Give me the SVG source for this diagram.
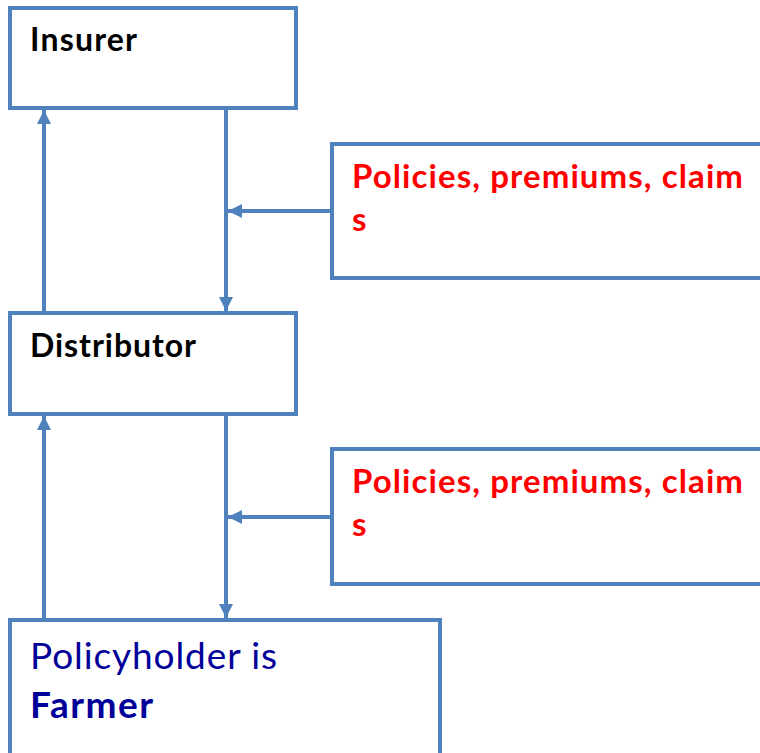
<svg xmlns="http://www.w3.org/2000/svg" width="760" height="753" viewBox="0 0 760 753">
<style>
.box{fill:#fff;stroke:#4F81BD;stroke-width:4}
.ln{stroke:#4F81BD;stroke-width:4;fill:none}
.lbl{font-family:Lato,"Liberation Sans",sans-serif;font-weight:bold;font-size:32px;fill:#000}
.red{font-family:Lato,"Liberation Sans",sans-serif;font-weight:bold;font-size:33px;fill:#FF0000}
.blue{font-family:Lato,"Liberation Sans",sans-serif;font-size:37px;fill:#000099}
</style>
<defs>
<marker id="ah" viewBox="0 0 10 10" refX="10" refY="5" markerWidth="3.5" markerHeight="3.7" orient="auto" markerUnits="strokeWidth">
<path d="M0,0 L10,5 L0,10 z" fill="#4F81BD"/>
</marker>
</defs>
<g id="connectors">
<line class="ln" x1="44" y1="311" x2="44" y2="110" marker-end="url(#ah)"/>
<line class="ln" x1="226" y1="110" x2="226" y2="311" marker-end="url(#ah)"/>
<line class="ln" x1="332" y1="211" x2="228" y2="211" marker-end="url(#ah)"/>
<line class="ln" x1="44" y1="618" x2="44" y2="416" marker-end="url(#ah)"/>
<line class="ln" x1="226" y1="416" x2="226" y2="618" marker-end="url(#ah)"/>
<line class="ln" x1="332" y1="517" x2="228" y2="517" marker-end="url(#ah)"/>
</g>
<g id="insurer">
<rect class="box" x="10" y="8" width="286" height="100"/>
<text class="lbl" x="30" y="51" textLength="107" lengthAdjust="spacing">Insurer</text>
</g>
<g id="callout1">
<rect class="box" x="332" y="144" width="440" height="134"/>
<text class="red" x="352" y="188" textLength="391" lengthAdjust="spacing">Policies, premiums, claim</text>
<text class="red" x="352" y="231">s</text>
</g>
<g id="distributor">
<rect class="box" x="10" y="313" width="286" height="101"/>
<text class="lbl" x="30" y="357" textLength="166" lengthAdjust="spacing">Distributor</text>
</g>
<g id="callout2">
<rect class="box" x="332" y="449" width="440" height="135"/>
<text class="red" x="352" y="493" textLength="391" lengthAdjust="spacing">Policies, premiums, claim</text>
<text class="red" x="352" y="536">s</text>
</g>
<g id="farmer">
<rect class="box" x="10" y="620" width="430" height="150"/>
<text class="blue" x="30" y="669" textLength="247" lengthAdjust="spacing">Policyholder is</text>
<text class="blue" x="30" y="718" font-weight="bold" textLength="123" lengthAdjust="spacing">Farmer</text>
</g>
</svg>
